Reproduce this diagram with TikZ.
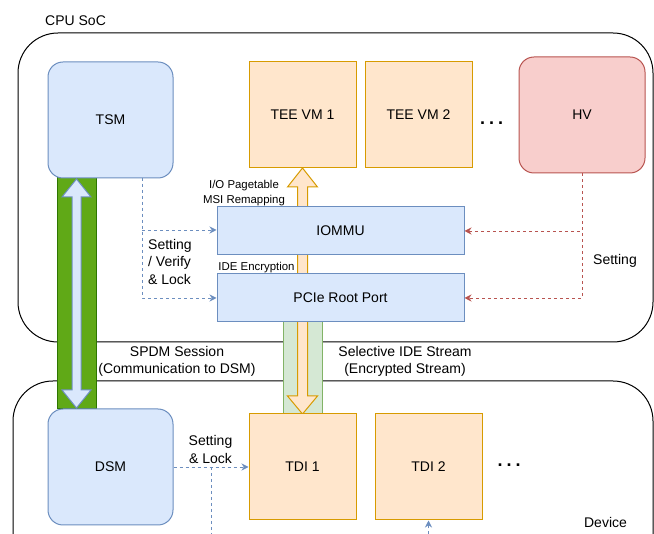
\documentclass[tikz,border=0pt]{standalone}
\usepackage{fontspec}
\setmainfont{Liberation Sans}
\usetikzlibrary{arrows.meta}
\definecolor{bluefill}{HTML}{DAE8FC}
\definecolor{bluedraw}{HTML}{6C8EBF}
\definecolor{orfill}{HTML}{FFE6CC}
\definecolor{ordraw}{HTML}{D79B00}
\definecolor{redfill}{HTML}{F8CECC}
\definecolor{reddraw}{HTML}{B85450}
\definecolor{gfill}{HTML}{60A917}
\definecolor{gdraw}{HTML}{2D7600}
\definecolor{lgfill}{HTML}{D5E8D4}
\definecolor{lgdraw}{HTML}{82B366}
\begin{document}
\begin{tikzpicture}[x=1pt,y=-1pt,
  every node/.style={font=\fontsize{14}{17.5}\selectfont, inner sep=0pt},
  small/.style={font=\fontsize{11.4}{15}\selectfont},
  dotsstyle/.style={font=\fontsize{18}{18}\selectfont\bfseries, anchor=base},
  container/.style={draw=black, line width=1pt, rounded corners=40pt},
  softbox/.style={draw=bluedraw, fill=bluefill, line width=1pt, rounded corners=15pt},
  hvbox/.style={draw=reddraw, fill=redfill, line width=1pt, rounded corners=15pt},
  teebox/.style={draw=ordraw, fill=orfill, line width=1pt},
  hwbox/.style={draw=bluedraw, fill=bluefill, line width=1pt},
  bluelink/.style={draw=bluedraw, line width=0.9pt, dash pattern=on 3pt off 3pt, -{Stealth[length=7pt,width=7pt]}},
  redlink/.style={draw=reddraw, line width=0.9pt, dash pattern=on 3pt off 3pt, -{Stealth[length=7pt,width=7pt]}},
  blueline/.style={draw=bluedraw, line width=0.9pt, dash pattern=on 3pt off 3pt},
  blockarrow/.style={line width=1pt, line join=miter}
]
\useasboundingbox (0,0) rectangle (654,534);
\clip (0,0) rectangle (654,534);

% containers
\draw[container] (18,33) rectangle (653,342);
\draw[container] (13,381) rectangle (653,590);
\node[anchor=west] (cpulabel) at (45,21) {CPU SoC};
\node (devlabel) at (605.5,522) {Device};

% channels
\draw[fill=gfill, draw=gdraw, line width=1pt] (57,178) rectangle (96,409);
\draw[fill=lgfill, draw=lgdraw, line width=1pt] (283,322) rectangle (322,414);

% orange data path arrow
\draw[blockarrow, fill=orfill, draw=ordraw]
  (302.5,168) -- (317.5,187) -- (307.5,187) -- (307.5,396) -- (317.5,396) -- (302.5,414)
  -- (287.5,396) -- (297.5,396) -- (297.5,187) -- (287.5,187) -- cycle;

% blue SPDM arrow
\draw[blockarrow, fill=bluefill, draw=bluedraw]
  (76.5,179) -- (91,197) -- (81,197) -- (81,390) -- (91,390) -- (76.5,408)
  -- (62,390) -- (72,390) -- (72,197) -- (62,197) -- cycle;

% nodes
\node[softbox, minimum width=125pt, minimum height=116pt] (tsm) at (110.5,120) {TSM};
\node[teebox, minimum width=107pt, minimum height=106pt] (tee1) at (302.5,115) {TEE VM 1};
\node[teebox, minimum width=107pt, minimum height=106pt] (tee2) at (418.5,115) {TEE VM 2};
\node[dotsstyle] (dots1) at (491.7,125) {.\hspace{4pt}.\hspace{4pt}.};
\node[hvbox, minimum width=126pt, minimum height=116pt] (hv) at (582,115) {HV};
\node[hwbox, minimum width=247pt, minimum height=48pt] (iommu) at (340.5,231) {IOMMU};
\node[hwbox, minimum width=247pt, minimum height=48pt] (pcie) at (340.5,298) {PCIe Root Port};
\node[softbox, minimum width=125pt, minimum height=116pt] (dsm) at (110.5,467) {DSM};
\node[teebox, minimum width=107pt, minimum height=106pt] (tdi1) at (302.5,467) {TDI 1};
\node[teebox, minimum width=107pt, minimum height=106pt] (tdi2) at (428.5,467) {TDI 2};
\node[dotsstyle] (dots2) at (509,466.5) {.\hspace{4pt}.\hspace{4pt}.};

% labels
\node[small, align=center] (iolabel) at (244,193) {I/O Pagetable\\MSI Remapping};
\node[small] (idelabel) at (256.5,267.5) {IDE Encryption};
\node[align=left, anchor=west] (svl) at (148,261.5) {Setting\\/ Verify\\\& Lock};
\node (hvset) at (615,260.5) {Setting};
\node[align=center] (spdm) at (177,361.5) {SPDM Session\\(Communication to DSM)};
\node[align=center] (side) at (405,361.5) {Selective IDE Stream\\(Encrypted Stream)};
\node[align=center] (dsl) at (210.5,449.5) {Setting\\\& Lock};

% connectors
\coordinate (tsmout) at (142,178);
\draw[blueline] (tsmout) -- (142,230);
\draw[bluelink] (142,230) -- (iommu.west |- 142,230);
\draw[bluelink] (tsmout) |- (pcie.west);
\draw[redlink] (hv.south) |- (iommu.east);
\draw[redlink] (hv.south) |- (pcie.east);
\draw[bluelink] (dsm.east) -- (tdi1.west);
\coordinate (dsmbranch) at (211,467);
\draw[bluelink] (dsmbranch) -- (211,560) -| (tdi2.south);
\end{tikzpicture}
\end{document}
